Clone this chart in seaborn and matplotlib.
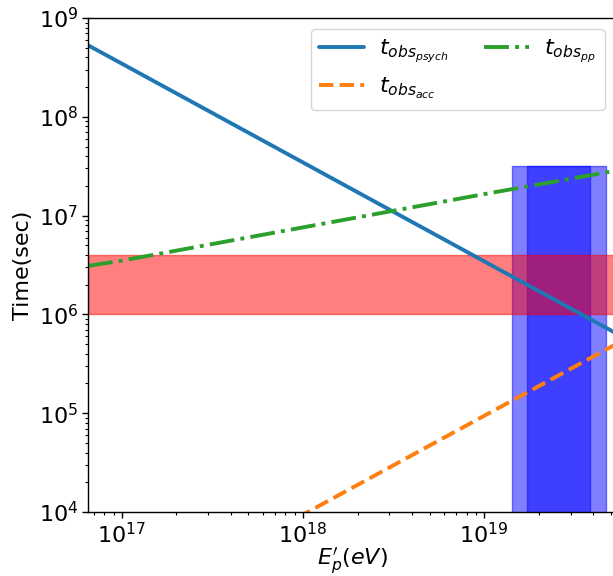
import numpy as np
import pandas as pd
import matplotlib
matplotlib.use("Agg")
import matplotlib.pyplot as plt
import seaborn as sns

# Energy grid (eV)
energy = [6.5e16, 1e17, 1e18, 1e19, 5.35e19]
# Observed timescales (sec)
t_psych = [5.3e8, 3.45e8, 3.45e7, 3.45e6, 6.45e5]
t_acc = [6.1e2, 9.4e2, 9.4e3, 9.4e4, 5.0e5]
t_pp = [3.1e6, 3.5e6, 7.6e6, 1.65e7, 2.85e7]

# Shaded regions
red_band = [1e6, 4e6]
blue_outer = [1.43e19, 4.7e19]
blue_inner = [1.73e19, 3.85e19]
blue_top = 3.2e7

labels = [r"$t_{obs_{psych}}$", r"$t_{obs_{acc}}$", r"$t_{obs_{pp}}$"]

sns.set_theme(style="ticks")
plt.rcParams['font.family'] = ['DejaVu Sans']
plt.rcParams['mathtext.fontset'] = 'dejavusans'
plt.rcParams['text.color'] = 'black'
plt.rcParams['axes.labelcolor'] = 'black'
plt.rcParams['xtick.color'] = 'black'
plt.rcParams['ytick.color'] = 'black'

fig = plt.figure(figsize=(6.13, 5.76), dpi=100)
ax = fig.add_axes([88/613, 1-512/576, (616-88)/613, (512-18)/576])

df = pd.DataFrame({"E": energy, "psych": t_psych, "acc": t_acc, "pp": t_pp})

sns.lineplot(data=df, x="E", y="psych", ax=ax, color="#1f77b4", lw=2.8, label=labels[0])
sns.lineplot(data=df, x="E", y="acc", ax=ax, color="#ff7f0e", lw=2.8, ls="--", label=labels[1])
sns.lineplot(data=df, x="E", y="pp", ax=ax, color="#2ca02c", lw=2.8, ls="-.", label=labels[2])

ax.set_xscale("log")
ax.set_yscale("log")
ax.set_xlim(energy[0], energy[-1])
ax.set_ylim(1e4, 1e9)

ax.fill_between(blue_outer, 1e3, blue_top, color="blue", alpha=0.5)
ax.fill_between(blue_inner, 1e3, blue_top, color="blue", alpha=0.5)
ax.axhspan(red_band[0], red_band[1], color="red", alpha=0.5)

ax.set_xlabel(r"$E_p'(eV)$", fontsize=16, labelpad=-1)
ax.set_ylabel("Time(sec)", fontsize=16, labelpad=4)
ax.tick_params(axis="both", which="major", labelsize=16, length=4, width=1, direction="out", pad=3)
ax.tick_params(axis="both", which="minor", length=2, width=0.8, direction="out")
for s in ax.spines.values():
    s.set_color("black")
    s.set_linewidth(1)

ax.legend(loc="upper right", ncol=2, fontsize=16, frameon=True, edgecolor="#cccccc",
          handletextpad=0.7, columnspacing=1.6)

fig.savefig("out.png", dpi=100)
